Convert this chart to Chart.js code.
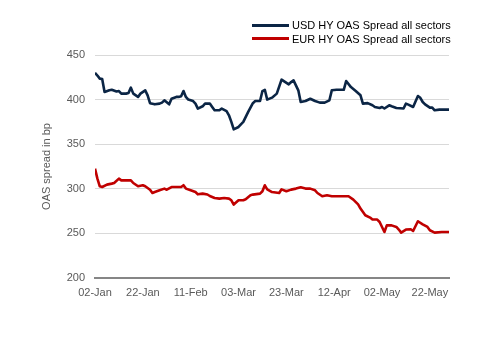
<!DOCTYPE html>
<html>
<head>
<meta charset="utf-8">
<script src="https://cdn.jsdelivr.net/npm/chart.js@4/dist/chart.umd.min.js"></script>
<style>
  html, body { margin: 0; padding: 0; background: #ffffff; }
  #wrap { position: relative; width: 504px; height: 355px; }
  #legend { position: absolute; left: 252px; top: 19px; font-family: "Liberation Sans", Arial, sans-serif; font-size: 11px; color: #000; }
  .row { height: 13.6px; line-height: 13.6px; white-space: nowrap; }
  .swatch { display: inline-block; width: 37px; height: 3px; vertical-align: middle; margin-right: 3px; position: relative; top: -1px; }
</style>
</head>
<body>
<div id="wrap">
  <canvas id="c" width="504" height="355"></canvas>
  <div id="legend"></div>
</div>
<script>
// ---- data (day offset from 02-Jan-2019, spread in bp) ----
const seriesNames = ["USD HY OAS Spread all sectors", "EUR HY OAS Spread all sectors"];
const seriesColors = ["#0b2545", "#c00000"];
const xTickLabels = ["02-Jan", "22-Jan", "11-Feb", "03-Mar", "23-Mar", "12-Apr", "02-May", "22-May"];
const yTickValues = [200, 250, 300, 350, 400, 450];

const usdDays = [0,1,2,3,4,6,7,9,10,11,13,14,15,16,18,19,21,22,23,25,27,28,29,31,32,34,35,36,37,38,39,41,42,43,45,46,48,49,50,52,53,55,56,57,58,60,61,62,64,66,67,69,70,71,72,74,76,78,81,82,83,85,86,88,90,92,94,96,98,99,101,104,105,107,109,111,112,114,116,117,119,120,121,123,124,126,129,130,131,133,135,136,137,138,140,141,142,144,148];
const usdValues = [430,427,423.5,423,408.5,410.4,411,409,409.6,406.7,406.7,407.4,413.4,406.7,403,406.7,410.4,404.8,396,394.7,395.5,396.6,399.2,394.7,401,403,403,403.7,409.6,403,400,398.4,395.5,389.9,392.5,395.5,395.5,391.7,388,388,390,387,382.4,375,366.7,369.3,372.3,375,386,396,398.4,398.4,409.6,411,400,402.2,406.7,422.4,417,419.7,421.6,410.4,397.3,398.4,401,398.4,396.6,396.6,399.2,410.4,411,411,420.8,414,409.6,404.8,395.5,396,393.6,391.7,390.6,391.7,390,393.6,392.5,390.6,390,395.5,394.4,391.7,404,402,397.3,394.7,391,391,388,388.8,388.8];

const eurDays = [0,1,2,3,5,7,8,10,11,13,15,16,18,20,21,23,24,25,27,29,30,32,34,36,37,38,40,42,43,45,47,48,50,52,54,56,57,58,60,62,63,65,66,69,70,71,72,74,77,78,80,82,84,86,88,90,92,93,95,97,99,102,106,108,110,111,113,115,116,118,119,120,121,122,124,126,127,128,130,132,133,135,137,139,140,142,145,148];
const eurValues = [322.6,311.4,302.8,302,304.7,305.8,306.5,311.4,309.5,309.5,309.5,306.5,302.8,304,302.8,299,295.3,296.4,298.3,300.2,299,302,302,302,304,300.2,298.3,296.4,293.8,294.6,293.6,291.9,289.7,289,289.7,289,287.1,282.3,287.1,287.1,288.2,292.7,293.5,294.6,297.2,303.9,299.4,296.4,295.3,299.4,297.2,299.1,300.2,301.7,300.2,300.2,298.3,295.3,291.6,292.7,291.6,291.6,291.6,287.9,282.6,277.8,270.3,267.7,265.5,265.5,262.8,257.2,251.6,259,259,257.2,254.3,250.9,254.3,254.6,252.7,263.6,260.2,257.2,253.5,250.9,251.6,251.6];

const toPoints = (days, vals) => days.map((d, i) => ({ x: d, y: vals[i] }));

const font = { family: '"Liberation Sans", Arial, sans-serif', size: 11 };

const chart = new Chart(document.getElementById('c'), {
  type: 'line',
  data: {
    datasets: [
      { label: seriesNames[0], data: toPoints(usdDays, usdValues), borderColor: seriesColors[0], backgroundColor: seriesColors[0], borderWidth: 2.6, pointRadius: 0, tension: 0, borderJoinStyle: 'round' },
      { label: seriesNames[1], data: toPoints(eurDays, eurValues), borderColor: seriesColors[1], backgroundColor: seriesColors[1], borderWidth: 2.6, pointRadius: 0, tension: 0, borderJoinStyle: 'round' }
    ]
  },
  options: {
    responsive: false,
    animation: false,
    devicePixelRatio: 1,
    layout: { padding: { left: 36, right: 55, top: 55, bottom: 0 } },
    plugins: { legend: { display: false }, tooltip: { enabled: false } },
    scales: {
      x: {
        type: 'linear',
        min: 0, max: 148,
        grid: { display: false, drawTicks: false },
        border: { display: true, color: '#868686', width: 2 },
        ticks: {
          stepSize: 20, includeBounds: false, autoSkip: false, maxRotation: 0,
          color: '#595959', font: font, padding: 8,
          callback: (v) => xTickLabels[Math.round(v / 20)] ?? ''
        },
        afterFit: (s) => { s.height = 77; }
      },
      y: {
        min: 200, max: 450,
        grid: { color: '#d9d9d9', lineWidth: 1, drawTicks: false },
        border: { display: false },
        afterBuildTicks: (s) => { s.ticks = yTickValues.map(v => ({ value: v })); },
        ticks: { color: '#595959', font: font, padding: 10 },
        title: { display: true, text: 'OAS spread in bp', color: '#595959', font: font, padding: { top: 4, bottom: 4 } },
        afterFit: (s) => { s.width = 59; }
      }
    }
  }
});

// HTML legend (real text), built from the chart datasets
const lg = document.getElementById('legend');
chart.data.datasets.forEach(ds => {
  const row = document.createElement('div');
  row.className = 'row';
  const sw = document.createElement('span');
  sw.className = 'swatch';
  sw.style.background = ds.borderColor;
  row.appendChild(sw);
  row.appendChild(document.createTextNode(ds.label));
  lg.appendChild(row);
});
</script>
</body>
</html>
